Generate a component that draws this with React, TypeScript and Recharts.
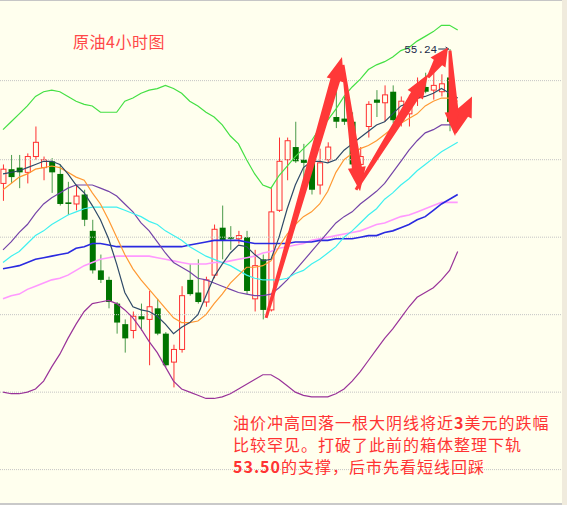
import React from "react";
import { ComposedChart, Bar, Line, XAxis, YAxis, ReferenceLine } from "recharts";

// 4h crude oil candles (oldest -> newest)
const opens = [
  54.39, 54.48, 54.49, 54.46, 54.56, 54.49, 54.53, 54.45, 54.27, 54.26,
  54.32, 54.09, 53.84, 53.78, 53.63, 53.5, 53.46, 53.55, 53.53, 53.6,
  53.44, 53.26, 53.34, 53.78, 53.7, 53.64, 53.81, 54.11, 54.05, 54.04,
  54.05, 53.66, 53.91, 53.59, 54.22, 54.54, 54.62, 54.54, 54.52, 54.38,
  54.54, 54.81, 54.8, 54.78, 54.51, 54.75, 54.92, 54.9, 54.97, 54.79,
  54.83, 54.93, 55.0, 54.98, 54.97, 55.06, 54.79,
];
const highs = [
  54.51, 54.57, 54.57, 54.58, 54.75, 54.56, 54.55, 54.51, 54.4, 54.38,
  54.35, 54.16, 53.94, 53.8, 53.64, 53.53, 53.58, 53.63, 53.71, 53.66,
  53.45, 53.37, 53.74, 53.88, 53.91, 53.8, 54.13, 54.25, 54.12, 54.09,
  54.09, 53.97, 53.94, 54.36, 54.68, 54.68, 54.78, 54.64, 54.54, 54.61,
  54.65, 55.11, 54.94, 54.84, 54.62, 54.91, 54.98, 55.01, 55.01, 54.94,
  54.95, 55.06, 55.09, 55.1, 55.08, 55.24, 54.83,
];
const lows = [
  54.28, 54.39, 54.36, 54.39, 54.54, 54.41, 54.33, 54.25, 54.19, 54.22,
  54.12, 53.82, 53.76, 53.6, 53.44, 53.32, 53.41, 53.46, 53.24, 53.43,
  53.23, 53.1, 53.32, 53.68, 53.63, 53.61, 53.79, 53.91, 53.97, 54.01,
  53.69, 53.58, 53.53, 53.58, 54.21, 54.41, 54.52, 54.42, 54.32, 54.32,
  54.52, 54.74, 54.76, 54.5, 54.49, 54.68, 54.81, 54.78, 54.77, 54.75,
  54.75, 54.88, 54.96, 54.92, 54.94, 54.72, 54.77,
];
const closes = [
  54.48, 54.43, 54.46, 54.56, 54.65, 54.54, 54.46, 54.26, 54.26, 54.31,
  54.16, 53.84, 53.78, 53.64, 53.51, 53.41, 53.55, 53.53, 53.61, 53.44,
  53.24, 53.34, 53.68, 53.69, 53.64, 53.78, 54.1, 54.03, 54.04, 54.06,
  53.71, 53.87, 53.59, 54.21, 54.53, 54.66, 54.53, 54.52, 54.35, 54.52,
  54.62, 54.78, 54.78, 54.51, 54.56, 54.89, 54.9, 54.95, 54.79, 54.91,
  54.91, 55.01, 54.97, 55.01, 55.02, 54.78, 54.81,
];

// Bollinger bands
const bollUpper = [
  54.73, 54.78, 54.83, 54.88, 54.94, 54.97, 54.98, 54.97, 54.94, 54.91,
  54.89, 54.88, 54.84, 54.84, 54.84, 54.91, 54.93, 54.96, 54.98, 54.99,
  55.01, 54.99, 54.96, 54.91, 54.88, 54.84, 54.81, 54.76, 54.69, 54.64,
  54.54, 54.45, 54.38, 54.36, 54.44, 54.5, 54.56, 54.61, 54.66, 54.74,
  54.79, 54.86, 54.94, 55.0, 55.05, 55.11, 55.14, 55.16, 55.19, 55.23,
  55.25, 55.29, 55.32, 55.35, 55.39, 55.39, 55.36,
];
const bollMid = [
  53.89, 53.93, 53.96, 54.01, 54.06, 54.09, 54.13, 54.16, 54.19, 54.21,
  54.23, 54.24, 54.24, 54.24, 54.24, 54.22, 54.2, 54.18, 54.15, 54.13,
  54.09, 54.06, 54.03, 53.99, 53.96, 53.93, 53.91, 53.89, 53.87, 53.84,
  53.81, 53.79, 53.78, 53.78, 53.78, 53.79, 53.82, 53.84, 53.88, 53.91,
  53.95, 53.99, 54.05, 54.09, 54.14, 54.19, 54.23, 54.29, 54.33, 54.38,
  54.42, 54.47, 54.51, 54.55, 54.59, 54.62, 54.65,
];
const bollLower = [
  53.07, 53.06, 53.06, 53.07, 53.09, 53.14, 53.23, 53.31, 53.41, 53.5,
  53.58, 53.63, 53.64, 53.65, 53.63, 53.59, 53.54, 53.47, 53.39, 53.32,
  53.23, 53.14, 53.09, 53.07, 53.05, 53.03, 53.03, 53.04, 53.06, 53.09,
  53.12, 53.15, 53.18, 53.18, 53.15, 53.11, 53.07, 53.05, 53.04, 53.04,
  53.04, 53.06, 53.09, 53.14, 53.2, 53.27, 53.34, 53.41, 53.47, 53.54,
  53.61, 53.67, 53.7, 53.73, 53.78, 53.84, 53.96,
];

// moving averages
const ma5 = [
  54.45, 54.46, 54.47, 54.49, 54.51, 54.53, 54.53, 54.51, 54.45, 54.38,
  54.33, 54.25, 54.16, 54.04, 53.88, 53.7, 53.61, 53.59, 53.58, 53.55,
  53.5, 53.44, 53.48, 53.51, 53.56, 53.68, 53.8, 53.88, 53.95, 54.0,
  53.99, 53.94, 53.9, 53.91, 54.05, 54.23, 54.38, 54.49, 54.53, 54.53,
  54.52, 54.54, 54.6, 54.64, 54.68, 54.72, 54.76, 54.78, 54.83, 54.88,
  54.9, 54.93, 54.94, 54.96, 54.99, 54.96, 54.93,
];
const ma10 = [
  54.35, 54.39, 54.43, 54.45, 54.48, 54.49, 54.5, 54.49, 54.46, 54.43,
  54.41, 54.33, 54.26, 54.16, 54.05, 53.94, 53.85, 53.78, 53.72, 53.66,
  53.6, 53.54, 53.51, 53.51, 53.52, 53.56, 53.63, 53.69, 53.76, 53.81,
  53.86, 53.86, 53.87, 53.9, 53.99, 54.07, 54.13, 54.18, 54.21, 54.26,
  54.34, 54.46, 54.54, 54.58, 54.61, 54.63, 54.66, 54.7, 54.74, 54.77,
  54.8, 54.83, 54.88, 54.91, 54.93, 54.93, 54.91,
];
const ma30 = [
  53.97, 54.02, 54.08, 54.13, 54.2, 54.26, 54.3, 54.33, 54.36, 54.38,
  54.38, 54.38, 54.36, 54.34, 54.31, 54.26, 54.21, 54.14, 54.09, 54.02,
  53.95, 53.89, 53.86, 53.83, 53.79, 53.78, 53.76, 53.74, 53.72, 53.7,
  53.69, 53.68, 53.68, 53.69, 53.73, 53.78, 53.84, 53.9, 53.96, 54.02,
  54.08, 54.14, 54.18, 54.21, 54.26, 54.3, 54.34, 54.39, 54.46, 54.53,
  54.6, 54.66, 54.71, 54.73, 54.76, 54.76, 54.76,
];
const ma60 = [
  53.85, 53.86, 53.87, 53.89, 53.91, 53.92, 53.93, 53.94, 53.95, 53.98,
  53.99, 54.01, 54.01, 54.0, 53.99, 53.99, 53.99, 53.99, 53.99, 53.99,
  53.99, 53.99, 53.99, 54.0, 54.01, 54.02, 54.03, 54.03, 54.03, 54.03,
  54.02, 54.01, 54.01, 54.01, 54.01, 54.01, 54.02, 54.02, 54.02, 54.03,
  54.03, 54.04, 54.04, 54.04, 54.05, 54.06, 54.06, 54.08, 54.09, 54.11,
  54.13, 54.16, 54.18, 54.22, 54.26, 54.29, 54.32,
];
const ma120 = [
  53.66, 53.68, 53.69, 53.72, 53.74, 53.76, 53.78, 53.79, 53.81, 53.84,
  53.87, 53.89, 53.91, 53.92, 53.93, 53.93, 53.93, 53.93, 53.93, 53.92,
  53.91, 53.9, 53.89, 53.88, 53.88, 53.88, 53.89, 53.89, 53.9, 53.91,
  53.92, 53.93, 53.95, 53.96, 53.98, 53.99, 54.0, 54.01, 54.03, 54.04,
  54.05, 54.06, 54.07, 54.08, 54.09, 54.11, 54.13, 54.14, 54.16, 54.18,
  54.19, 54.21, 54.23, 54.25, 54.27, 54.27, 54.27,
];

const gridLevels = [55.04, 54.54, 54.05, 53.56, 53.07, 52.58];

// hand-drawn arrows: [fromIndex, fromPrice, toIndex, toPrice]
const arrows = [
  [32.4, 53.54, 41.75, 55.19],
  [41.87, 55.14, 43.97, 54.34],
  [43.47, 54.35, 52.34, 55.08],
  [52.34, 55.06, 54.8, 55.25],
  [55.05, 55.23, 55.67, 54.69],
  [55.67, 54.71, 57.76, 54.94],
];

const peakIndex = 55;
const peakLabel = "55.24";

const BG = "#FFFFEE";
const RED = "#FF3030";
const ARROW = "#FF3838";

const data = opens.map((o, i) => ({
  i,
  open: o,
  high: highs[i],
  low: lows[i],
  close: closes[i],
  upper: bollUpper[i],
  mid: bollMid[i],
  lower: bollLower[i],
  ma5: ma5[i],
  ma10: ma10[i],
  ma30: ma30[i],
  ma60: ma60[i],
  ma120: ma120[i],
}));

const Candle = (props: any) => {
  const { x, y, width, height, payload } = props;
  const { open, close, high, low } = payload;
  const top = Math.min(y, y + height);
  const bottom = Math.max(y, y + height);
  const k = (bottom - top) / (high - low);
  const yo = top + (high - open) * k;
  const yc = top + (high - close) * k;
  const cx = x + width / 2;
  const bt = Math.min(yo, yc);
  const bh = Math.max(Math.abs(yo - yc), 1.5);
  if (close >= open) {
    return (
      <g>
        <line x1={cx} x2={cx} y1={top} y2={bottom} stroke={RED} />
        <rect x={cx - 2.5} y={bt} width={5} height={bh} fill={BG} stroke={RED} />
      </g>
    );
  }
  return (
    <g>
      <line x1={cx} x2={cx} y1={top} y2={bottom} stroke="#4a9a4a" />
      <rect x={cx - 3} y={bt} width={6} height={bh} fill="#007400" />
    </g>
  );
};

// tapered arrow between the two segment ends
const Arrow = (p: any) => {
  const { x1, y1, x2, y2 } = p;
  const dx = x2 - x1;
  const dy = y2 - y1;
  const len = Math.hypot(dx, dy) || 1;
  const ux = dx / len;
  const uy = dy / len;
  const nx = -uy;
  const ny = ux;
  const head = Math.min(24, len * 0.5);
  const hw = 9;
  const w0 = 1.5;
  const w1 = 5;
  const bx = x2 - ux * head;
  const by = y2 - uy * head;
  const pts = [
    [x1 + nx * w0, y1 + ny * w0],
    [bx + nx * w1, by + ny * w1],
    [bx + nx * hw, by + ny * hw],
    [x2, y2],
    [bx - nx * hw, by - ny * hw],
    [bx - nx * w1, by - ny * w1],
    [x1 - nx * w0, y1 - ny * w0],
  ];
  return <polygon points={pts.map((q) => q.join(",")).join(" ")} fill={ARROW} />;
};

const PeakMark = (p: any) => {
  const { x1, y1, x2, y2 } = p;
  return (
    <g>
      <text
        x={x1 - 1}
        y={y1 + 4}
        textAnchor="end"
        fontFamily="Liberation Mono"
        fontSize={11}
        fill="#1c2b4a"
      >
        {peakLabel}
      </text>
      <line x1={x1} y1={y1} x2={x2 - 1} y2={y2} stroke="#1c2b4a" />
      <polyline
        points={`${x2 - 4},${y2 - 2} ${x2 - 1},${y2} ${x2 - 4},${y2 + 2}`}
        fill="none"
        stroke="#1c2b4a"
      />
    </g>
  );
};

export default function App() {
  return (
    <div
      style={{
        position: "absolute",
        left: 0,
        top: 0,
        width: 567,
        height: 505,
        background: BG,
        overflow: "hidden",
      }}
    >
      <ComposedChart
        width={567}
        height={505}
        data={data}
        margin={{ top: 0, right: 0, bottom: 0, left: 0 }}
      >
        <XAxis dataKey="i" type="number" domain={[-0.37, 69.46]} allowDataOverflow hide />
        <YAxis type="number" domain={[52.35625, 55.55]} allowDataOverflow hide />
        {gridLevels.map((g) => (
          <ReferenceLine
            key={g}
            y={g}
            stroke="#c4c4c4"
            strokeDasharray="1 1"
            ifOverflow="visible"
          />
        ))}
        <Bar
          dataKey={(d: any) => [d.low, d.high]}
          barSize={7}
          shape={<Candle />}
          isAnimationActive={false}
        />
        <Line dataKey="ma120" stroke="#FF99FF" strokeWidth={1.6} dot={false} isAnimationActive={false} />
        <Line dataKey="ma60" stroke="#2a2ae0" strokeWidth={1.6} dot={false} isAnimationActive={false} />
        <Line dataKey="ma30" stroke="#7444a8" strokeWidth={1.2} dot={false} isAnimationActive={false} />
        <Line dataKey="upper" stroke="#44e044" strokeWidth={1.2} dot={false} isAnimationActive={false} />
        <Line dataKey="mid" stroke="#3ff0f0" strokeWidth={1.2} dot={false} isAnimationActive={false} />
        <Line dataKey="lower" stroke="#993399" strokeWidth={1.2} dot={false} isAnimationActive={false} />
        <Line dataKey="ma10" stroke="#ff9933" strokeWidth={1.2} dot={false} isAnimationActive={false} />
        <Line dataKey="ma5" stroke="#2f4a68" strokeWidth={1.2} dot={false} isAnimationActive={false} />
        <ReferenceLine
          segment={[
            { x: peakIndex - 1.4, y: highs[peakIndex] },
            { x: peakIndex, y: highs[peakIndex] },
          ]}
          ifOverflow="visible"
          shape={(p: any) => <PeakMark {...p} />}
        />
        {arrows.map((a, k) => (
          <ReferenceLine
            key={k}
            segment={[
              { x: a[0], y: a[1] },
              { x: a[2], y: a[3] },
            ]}
            ifOverflow="visible"
            shape={(p: any) => <Arrow {...p} />}
          />
        ))}
      </ComposedChart>

      <div
        style={{
          position: "absolute",
          left: 73,
          top: 33,
          fontFamily: "'Noto Sans CJK SC'",
          fontSize: 16,
          lineHeight: "16px",
          letterSpacing: 0.5,
          color: "#FF4848",
          whiteSpace: "nowrap",
        }}
      >
        原油4小时图
      </div>

      <div
        style={{
          position: "absolute",
          left: 233,
          top: 411,
          fontFamily: "'Noto Sans CJK SC'",
          fontSize: 16,
          lineHeight: "22px",
          letterSpacing: 1,
          color: "#FF3333",
          whiteSpace: "nowrap",
        }}
      >
        <div>
          油价冲高回落一根大阴线将近<b>3</b>美元的跌幅
        </div>
        <div>比较罕见。打破了此前的箱体整理下轨</div>
        <div>
          <b>53.50</b>的支撑，后市先看短线回踩
        </div>
      </div>

      <div style={{ position: "absolute", left: 0, top: 0, width: 567, height: 1, background: "#c6c6c6" }} />
      <div style={{ position: "absolute", left: 0, top: 503, width: 567, height: 2, background: "#c9c9c9" }} />
      <div style={{ position: "absolute", left: 562, top: 0, width: 5, height: 505, background: "#F0EBDD" }} />
    </div>
  );
}
